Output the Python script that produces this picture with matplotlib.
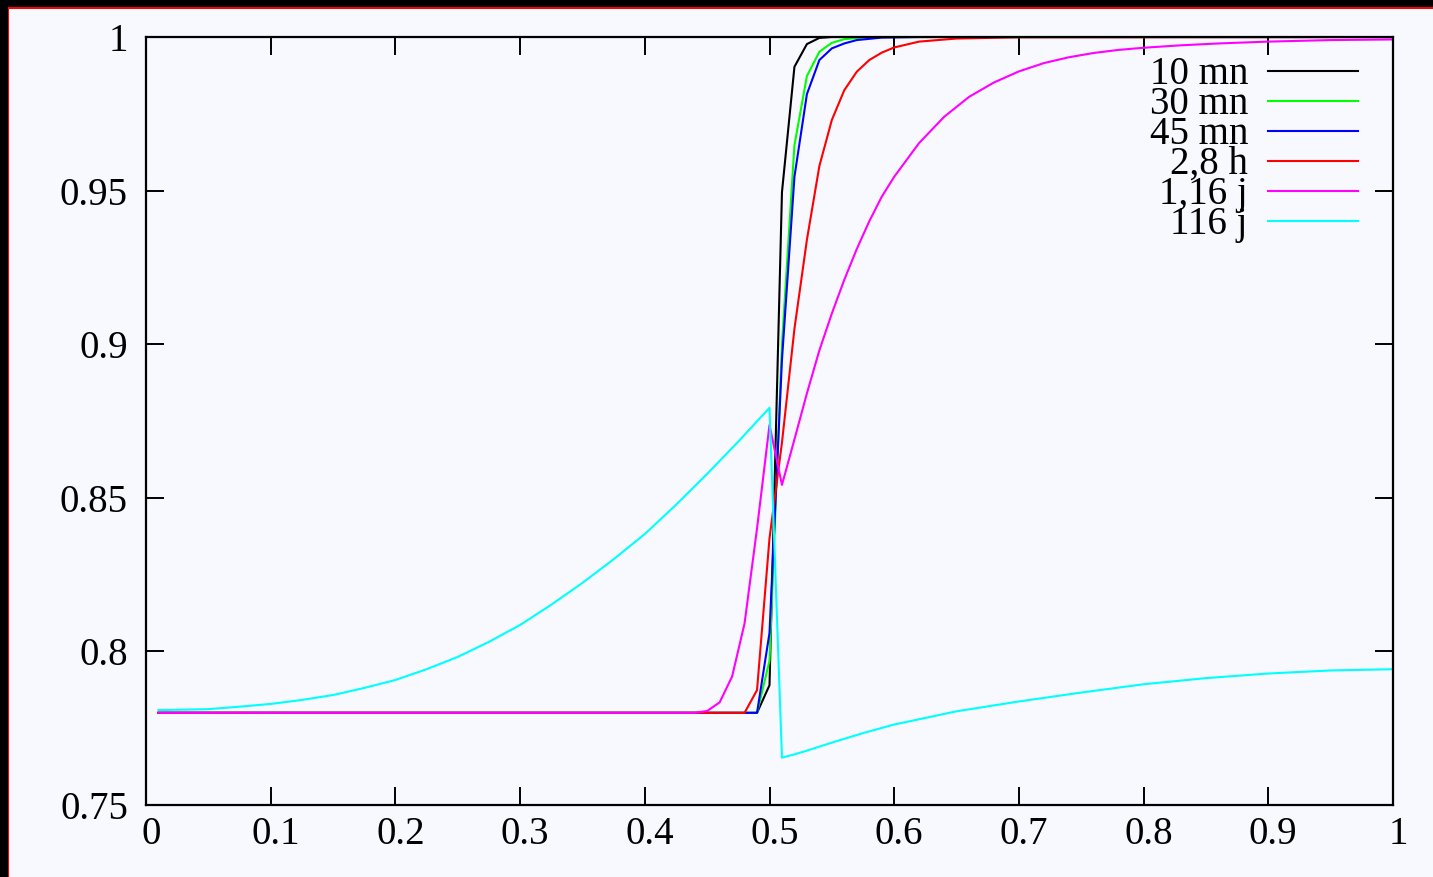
import matplotlib
matplotlib.use("Agg")
import matplotlib.pyplot as plt
import matplotlib.transforms as mtransforms
from matplotlib.patches import Rectangle

# profiles (x, value)
x_10mn = [0.01, 0.49, 0.50, 0.51, 0.52, 0.53, 0.54, 0.55, 1.00]
y_10mn = [0.780, 0.780, 0.789, 0.9495, 0.9903, 0.9977, 0.9997, 1.000, 1.000]

x_30mn = [0.01, 0.49, 0.50, 0.51, 0.52, 0.53, 0.54, 0.55, 0.56, 0.58, 1.00]
y_30mn = [0.780, 0.780, 0.797, 0.900, 0.9648, 0.9873, 0.9952, 0.9981, 0.9993, 1.000, 1.000]

x_45mn = [0.01, 0.49, 0.50, 0.51, 0.52, 0.53, 0.54, 0.55, 0.56, 0.57, 0.59, 0.62, 1.00]
y_45mn = [0.780, 0.780, 0.806, 0.895, 0.9545, 0.9814, 0.9925, 0.9963, 0.9979, 0.9990, 0.9998, 1.000, 1.000]

x_28h = [0.01, 0.48, 0.49, 0.50, 0.51, 0.52, 0.53, 0.54, 0.55, 0.56, 0.57, 0.58, 0.59, 0.60,
         0.62, 0.65, 0.70, 1.00]
y_28h = [0.780, 0.780, 0.7874, 0.8368, 0.868, 0.905, 0.934, 0.958, 0.973, 0.9827, 0.9887, 0.9925,
         0.9949, 0.9966, 0.9985, 0.9995, 0.9999, 1.000]

x_116j_1 = [0.01, 0.44, 0.45, 0.46, 0.47, 0.48, 0.49, 0.50, 0.51, 0.52, 0.53, 0.54, 0.55, 0.56,
            0.57, 0.58, 0.59, 0.60, 0.62, 0.64, 0.66, 0.68, 0.70, 0.72, 0.74, 0.76, 0.78, 0.80,
            0.83, 0.86, 0.90, 0.95, 1.00]
y_116j_1 = [0.780, 0.780, 0.7806, 0.7834, 0.7918, 0.8091, 0.840, 0.8737, 0.8542, 0.869, 0.884,
            0.898, 0.910, 0.921, 0.931, 0.940, 0.948, 0.9545, 0.9655, 0.974, 0.9805, 0.9852,
            0.9888, 0.9915, 0.9934, 0.9948, 0.9958, 0.9965, 0.9973, 0.9979, 0.9985, 0.9990, 0.9992]

x_116j = [0.01, 0.025, 0.05, 0.075, 0.10, 0.125, 0.15, 0.175, 0.20, 0.225, 0.25, 0.275, 0.30,
          0.325, 0.35, 0.375, 0.40, 0.425, 0.45, 0.475, 0.50, 0.51, 0.52, 0.53, 0.55, 0.575,
          0.60, 0.65, 0.70, 0.75, 0.80, 0.85, 0.90, 0.95, 1.00]
y_116j = [0.7809, 0.7810, 0.7812, 0.7820, 0.7829, 0.7842, 0.7858, 0.7881, 0.7907, 0.7942,
          0.7982, 0.8031, 0.8086, 0.8152, 0.8223, 0.8300, 0.8382, 0.8477, 0.8578, 0.8683,
          0.8793, 0.7654, 0.7665, 0.7677, 0.7703, 0.7734, 0.7762, 0.7805, 0.7837, 0.7866,
          0.7893, 0.7913, 0.7928, 0.7938, 0.7942]

series = [
    ("10 mn", x_10mn, y_10mn, "black"),
    ("30 mn", x_30mn, y_30mn, "#00ff00"),
    ("45 mn", x_45mn, y_45mn, "blue"),
    ("2,8 h", x_28h, y_28h, "red"),
    ("1,16 j", x_116j_1, y_116j_1, "magenta"),
    ("116 j", x_116j, y_116j, "cyan"),
]

xticks = [0, 0.1, 0.2, 0.3, 0.4, 0.5, 0.6, 0.7, 0.8, 0.9, 1]
yticks = [0.75, 0.8, 0.85, 0.9, 0.95, 1]

W, H = 1433, 877
bg = "#f8f8ff"
plt.rcParams["font.family"] = ["Liberation Serif", "DejaVu Serif"]
plt.rcParams["font.size"] = 28

fig = plt.figure(figsize=(W / 100, H / 100), dpi=100, facecolor=bg)
ax = fig.add_axes([146 / W, 1 - 805 / H, (1393 - 146) / W, (805 - 37) / H])
ax.set_facecolor(bg)

for label, xs, ys, col in series:
    ax.plot(xs, ys, color=col, lw=1.5)

ax.set_xlim(0, 1)
ax.set_ylim(0.75, 1)
ax.set_xticks(xticks)
ax.set_yticks(yticks)
ax.set_xticklabels(["%g" % v for v in xticks])
ax.set_yticklabels(["%g" % v for v in yticks])
ax.tick_params(direction="in", length=13, width=1.4, top=True, right=True, colors="black")
ax.tick_params(axis="x", pad=8)
ax.tick_params(axis="y", pad=13)
for sp in ax.spines.values():
    sp.set_linewidth(1.6)

shift = mtransforms.ScaledTranslation(5 / 100, 0, fig.dpi_scale_trans)
for t in ax.get_xticklabels():
    t.set_transform(t.get_transform() + shift)

# key drawn by hand: text right-aligned, sample line to the right
def ax_pt(px, py):
    return (px - 146) / (1393 - 146), (805 - py) / (805 - 37)

for i, (label, xs, ys, col) in enumerate(series):
    py = 70.7 + 30 * i
    tx, ty = ax_pt(1248, py + 13)
    ax.text(tx, ty, label, transform=ax.transAxes, ha="right", va="baseline", fontsize=28)
    x0, yl = ax_pt(1268, py)
    x1, _ = ax_pt(1358, py)
    ax.plot([x0, x1], [yl, yl], color=col, lw=1.5, transform=ax.transAxes)

# dark frame on top/left edges
fig.add_artist(Rectangle((0, 1 - 7 / H), 1, 7 / H, transform=fig.transFigure, color="black", lw=0))
fig.add_artist(Rectangle((0, 0), 7.5 / W, 1, transform=fig.transFigure, color="black", lw=0))
fig.add_artist(Rectangle((7.5 / W, 0), 1.7 / W, 1 - 7 / H, transform=fig.transFigure, color="red", lw=0))
fig.add_artist(Rectangle((7.5 / W, 1 - 8.7 / H), 1, 1.7 / H, transform=fig.transFigure, color="red", lw=0))

fig.savefig("out.png", dpi=100, facecolor=bg)
